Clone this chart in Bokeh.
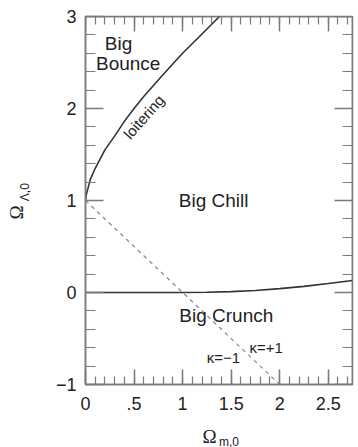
from bokeh.plotting import figure
from bokeh.models import Range1d, LinearAxis, FixedTicker, Label
from bokeh.embed import file_html
from bokeh.resources import INLINE

# --- data ---
loiter_om = [0.0, 0.005, 0.02, 0.05, 0.1, 0.2, 0.3, 0.4, 0.5, 0.6, 0.8, 1.0, 1.2, 1.38]
loiter_ol = [1.0, 1.05, 1.11, 1.23, 1.35, 1.55, 1.70, 1.86, 2.0, 2.13, 2.37, 2.60, 2.81, 3.0]

crunch_om = [0.0, 1.0, 1.25, 1.5, 1.75, 2.0, 2.25, 2.5, 2.75]
crunch_ol = [0.0, 0.0, 0.002, 0.009, 0.022, 0.042, 0.067, 0.097, 0.13]

flat_om = [0.0, 2.0]
flat_ol = [1.0, -1.0]

x_start, x_end = 0.0, 2.75
y_start, y_end = -1.0, 3.0
x_major = [0, 0.5, 1, 1.5, 2, 2.5]
x_labels = ["0", ".5", "1", "1.5", "2", "2.5"]
x_minor = [round(i * 0.1, 1) for i in range(0, 28)]
y_major = [-1, 0, 1, 2, 3]
y_labels = ["\u22121", "0", "1", "2", "3"]
y_minor = [round(-1 + i * 0.2, 1) for i in range(0, 21)]

region_texts = ["Big", "Bounce", "Big Chill", "Big Crunch"]
region_x = [0.34, 0.44, 1.32, 1.45]
region_y = [2.71, 2.49, 1.0, -0.25]

kappa_texts = ["\u03ba=\u22121", "\u03ba=+1"]
kappa_x = [1.42, 1.86]
kappa_y = [-0.71, -0.60]

GRAY = "#7a7a7a"
DARK = "#333333"
TXT = "#222222"
FONT = "Liberation Sans"
SERIF = "Liberation Serif"
NB = "\u00a0"

FW, FH = 267, 368
p = figure(frame_width=FW, frame_height=FH,
           x_range=Range1d(x_start, x_end), y_range=Range1d(y_start, y_end),
           output_backend="svg", toolbar_location=None,
           min_border_left=85, min_border_right=6,
           min_border_top=16, min_border_bottom=63)
p.xgrid.visible = False
p.ygrid.visible = False
p.outline_line_color = GRAY
p.outline_line_width = 1.5
p.background_fill_color = "white"
p.border_fill_color = "white"

xax = p.below[0]
yax = p.left[0]


def style_ticks(ax, major, minor, maj_len, min_len, inward=True):
    ax.ticker = FixedTicker(ticks=major, minor_ticks=minor)
    ax.axis_line_color = GRAY
    ax.axis_line_width = 1.5
    ax.major_tick_line_color = GRAY
    ax.minor_tick_line_color = GRAY
    ax.major_tick_line_width = 1.5
    ax.minor_tick_line_width = 1.2
    if inward:
        ax.major_tick_in, ax.major_tick_out = maj_len, 0
        ax.minor_tick_in, ax.minor_tick_out = min_len, 0
    else:
        ax.major_tick_in, ax.major_tick_out = 0, maj_len
        ax.minor_tick_in, ax.minor_tick_out = 0, min_len


def style_labels(ax, major, labels):
    ax.major_label_overrides = {m: l for m, l in zip(major, labels)}
    ax.major_label_text_font = FONT
    ax.major_label_text_font_size = "18px"
    ax.major_label_text_color = TXT


X_MAJ, X_MIN, Y_MAJ, Y_MIN = 15, 8, 18, 10  # tick lengths, px
style_ticks(xax, x_major, x_minor, X_MAJ, X_MIN)
style_labels(xax, x_major, x_labels)
xax.major_label_standoff = 12
style_ticks(yax, y_major, y_minor, Y_MAJ, Y_MIN)
style_labels(yax, y_major, y_labels)
yax.major_label_standoff = 9

# axis titles: main symbol and subscript on two stacked axes
xax.axis_label = "\u03a9" + NB * 4
xax.axis_label_text_font = SERIF
xax.axis_label_text_font_size = "19px"
xax.axis_label_text_font_style = "normal"
xax.axis_label_text_color = TXT
xax.axis_label_standoff = 13

x_sub = LinearAxis(ticker=FixedTicker(ticks=[]), axis_line_color=None,
                   major_tick_line_color=None, minor_tick_line_color=None,
                   axis_label=NB * 6 + "m,0", axis_label_text_font=FONT,
                   axis_label_text_font_size="12px", axis_label_text_font_style="normal",
                   axis_label_text_color=TXT, axis_label_standoff=-15)
p.add_layout(x_sub, "below")

yax.axis_label = NB * 5 + "\u039b,0"
yax.axis_label_text_font = FONT
yax.axis_label_text_font_size = "12px"
yax.axis_label_text_font_style = "normal"
yax.axis_label_text_color = TXT
yax.axis_label_standoff = 21

y_main = LinearAxis(ticker=FixedTicker(ticks=[]), axis_line_color=None,
                    major_tick_line_color=None, minor_tick_line_color=None,
                    axis_label="\u03a9" + NB * 5, axis_label_text_font=SERIF,
                    axis_label_text_font_size="19px", axis_label_text_font_style="normal",
                    axis_label_text_color=TXT, axis_label_standoff=-12)
p.add_layout(y_main, "left")

# mirrored ticks on the top and right edges: axes pinned to the far edges,
# ticks pointing "out" which is into the frame there; no labels drawn
top_ax = LinearAxis(fixed_location=y_end)
style_ticks(top_ax, x_major, x_minor, X_MAJ, X_MIN, inward=False)
top_ax.major_label_text_color = None
top_ax.major_label_text_alpha = 0
p.add_layout(top_ax, "below")

right_ax = LinearAxis(fixed_location=x_end)
style_ticks(right_ax, y_major, y_minor, Y_MAJ, Y_MIN, inward=False)
right_ax.major_label_text_color = None
right_ax.major_label_text_alpha = 0
p.add_layout(right_ax, "left")

p.line(loiter_om, loiter_ol, line_color=DARK, line_width=1.6)
p.line(crunch_om, crunch_ol, line_color=DARK, line_width=1.6)
p.line(flat_om, flat_ol, line_color="#8a8a8a", line_width=1.2, line_dash="4 4")

for t, x, y in zip(region_texts, region_x, region_y):
    p.add_layout(Label(x=x, y=y, text=t, text_font=FONT, text_font_size="19px",
                       text_color=TXT, text_align="center", text_baseline="middle"))

for t, x, y in zip(kappa_texts, kappa_x, kappa_y):
    p.add_layout(Label(x=x, y=y, text=t, text_font=FONT, text_font_size="15px",
                       text_color=TXT, text_align="center", text_baseline="middle"))

p.add_layout(Label(x=0.60, y=1.91, text="loitering", text_font=FONT, text_font_size="15px",
                   text_color=TXT, text_align="center", text_baseline="middle",
                   angle=0.85))

open("out.html", "w").write(file_html(p, INLINE))
